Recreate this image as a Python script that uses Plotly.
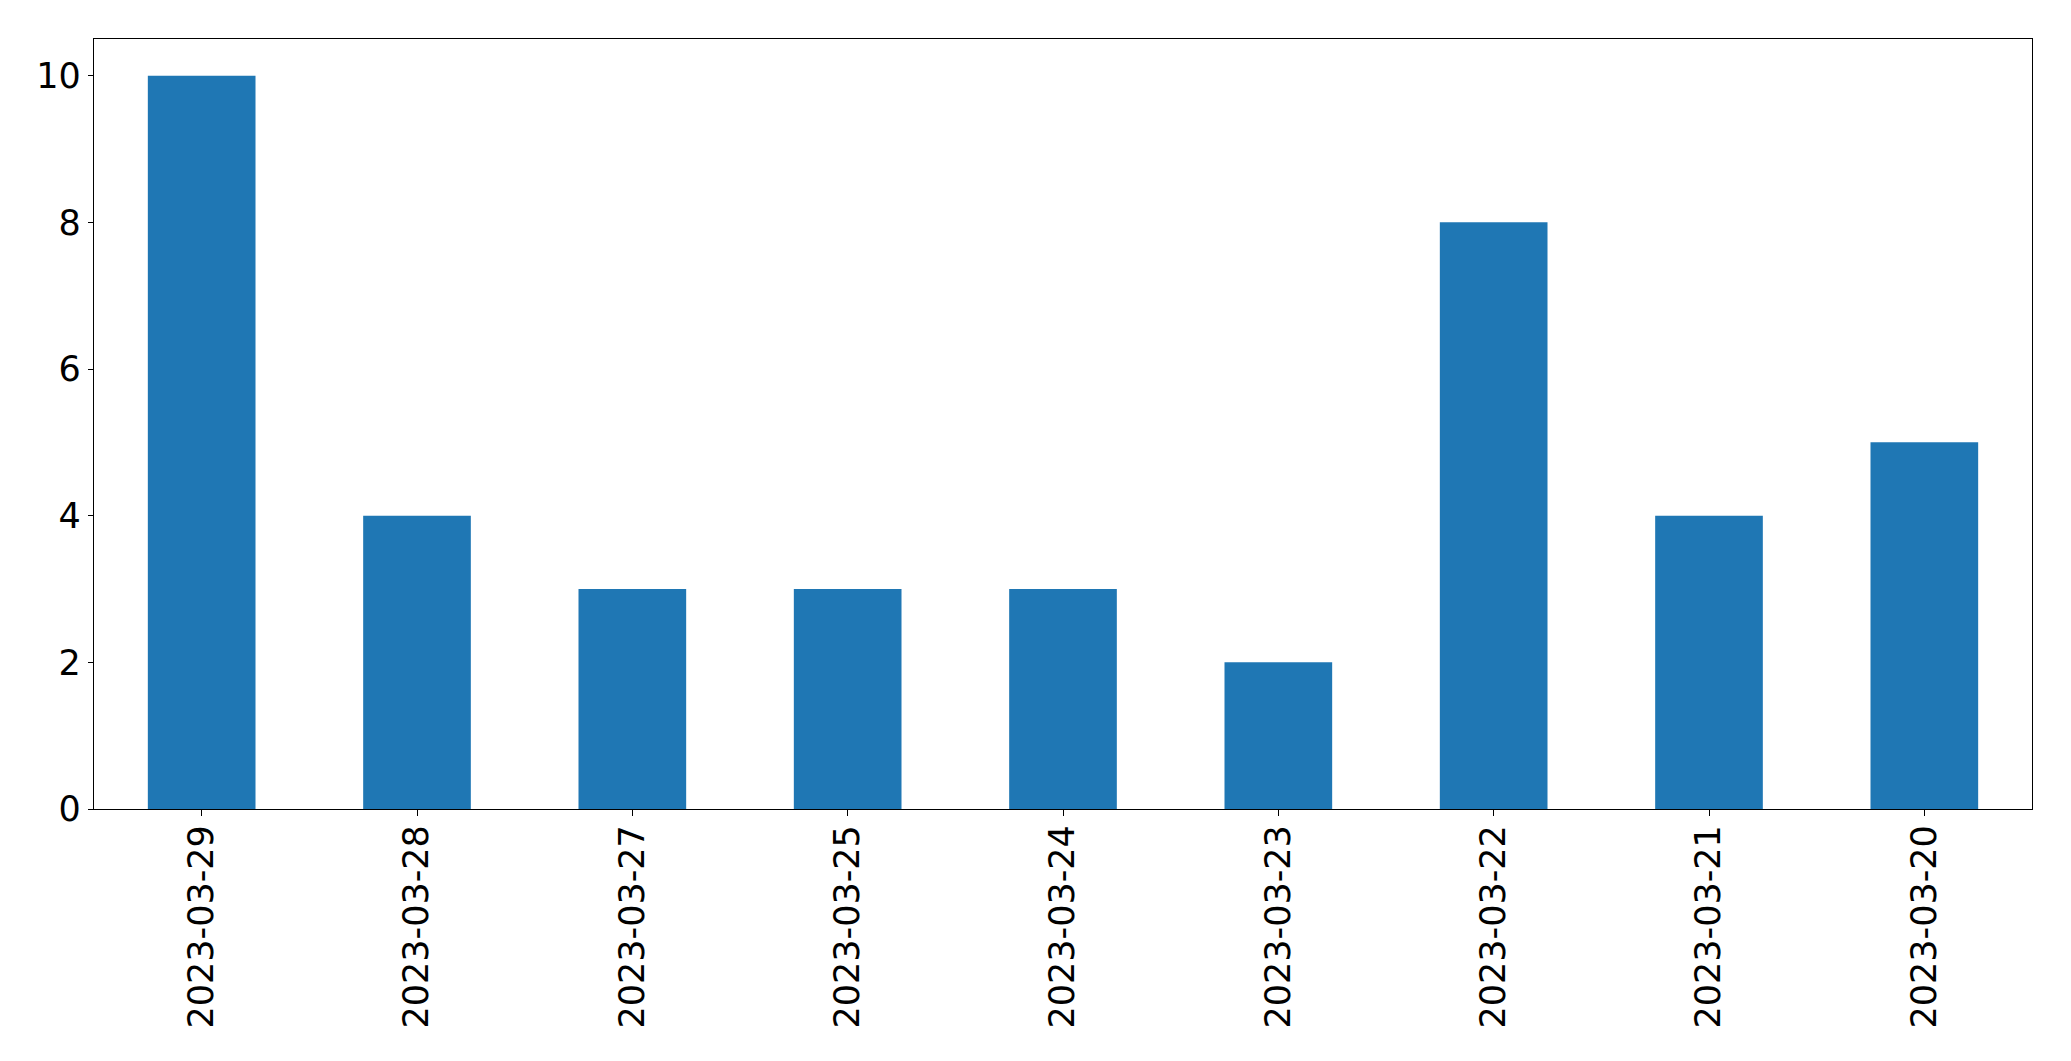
import plotly.graph_objects as go

dates = ["2023-03-29", "2023-03-28", "2023-03-27", "2023-03-25", "2023-03-24",
         "2023-03-23", "2023-03-22", "2023-03-21", "2023-03-20"]
counts = [10, 4, 3, 3, 3, 2, 8, 4, 5]
y_ticks = [0, 2, 4, 6, 8, 10]

fig = go.Figure(go.Bar(x=dates, y=counts, marker=dict(color="#1f77b4", line=dict(width=0)), width=0.5))

fig.update_layout(
    width=2071, height=1061,
    margin=dict(l=94, r=39, t=39, b=252, autoexpand=False),
    paper_bgcolor="white", plot_bgcolor="white",
    font=dict(family="DejaVu Sans", size=35, color="black"),
    showlegend=False,
)
fig.update_xaxes(
    type="category", range=[-0.5, 8.5], tickangle=-90,
    showline=True, mirror=True, linecolor="black", linewidth=1.3,
    ticks="outside", ticklen=6, tickwidth=1.3, tickcolor="black",
    ticklabelstandoff=-5,
    showgrid=False, zeroline=False,
)
fig.update_yaxes(
    range=[0, 10.5], tickvals=y_ticks,
    showline=True, mirror=True, linecolor="black", linewidth=1.3,
    ticks="outside", ticklen=5, tickwidth=1.3, tickcolor="black",
    showgrid=False, zeroline=False,
)
fig.write_html("out.html", config={"displayModeBar": False},
               post_script="document.body.style.margin='0';document.body.style.overflow='hidden';")
